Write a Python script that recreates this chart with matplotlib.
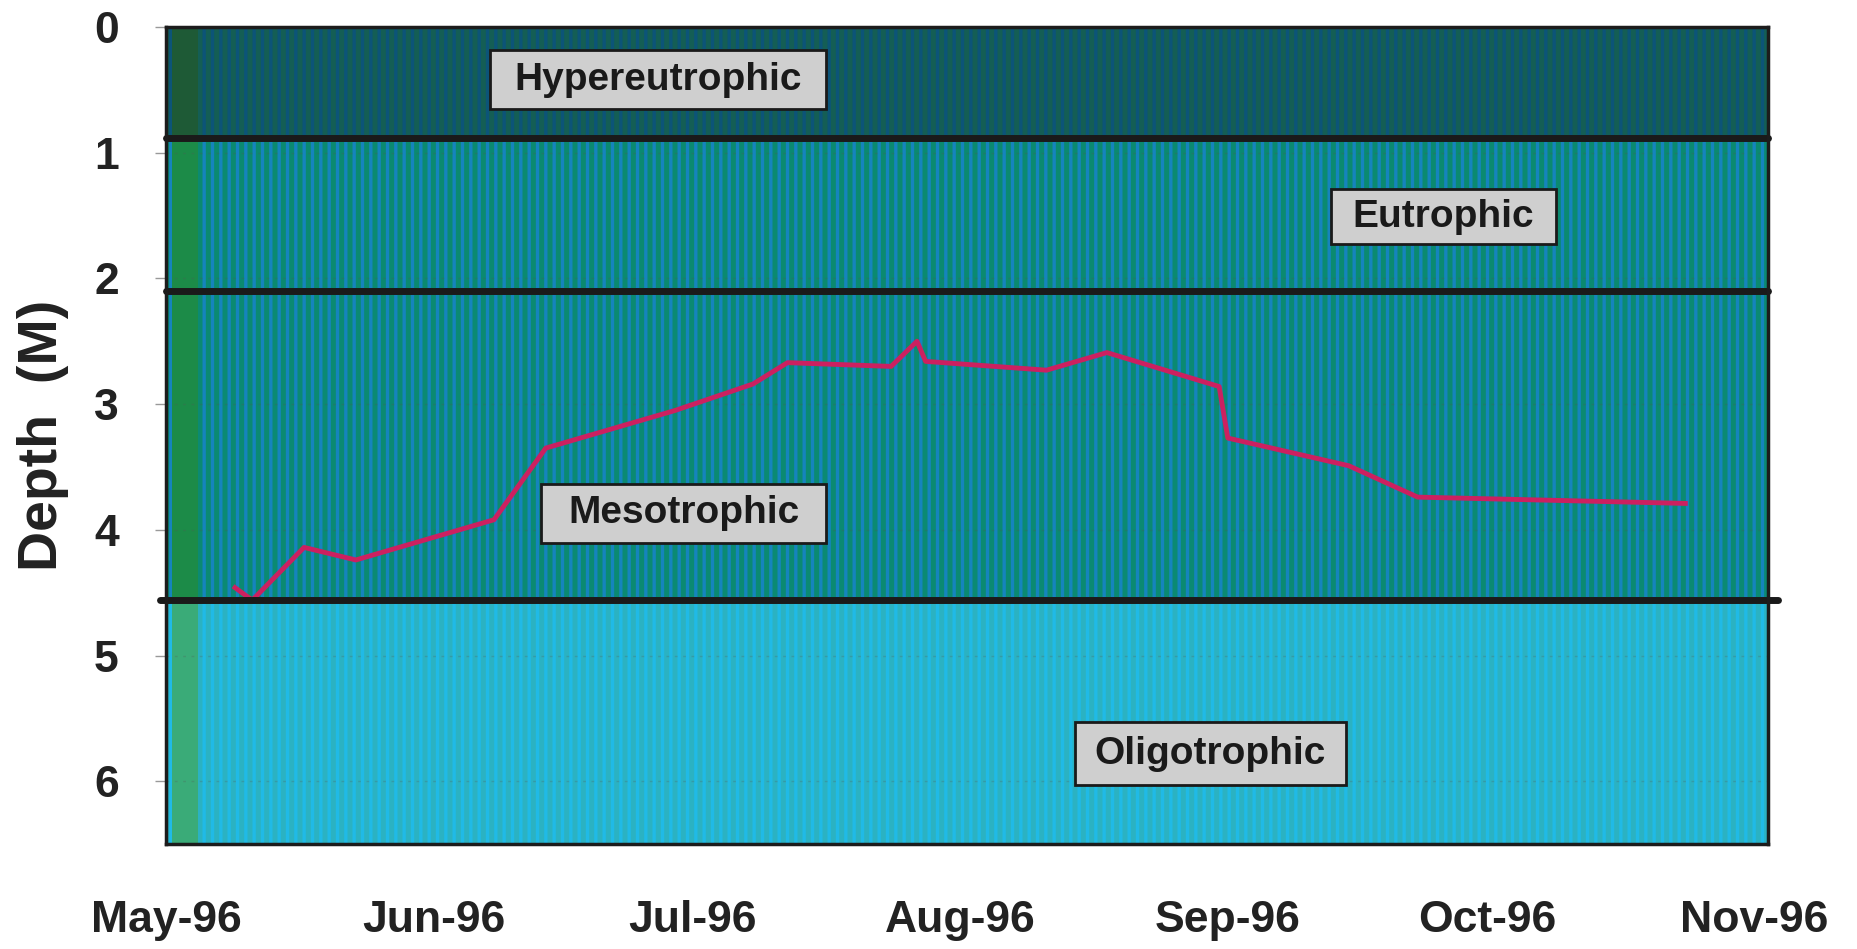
import datetime as dt
import matplotlib
matplotlib.use("Agg")
import matplotlib.pyplot as plt
import matplotlib.dates as mdates
from matplotlib.patches import Rectangle

# secchi depth readings (m)
dates = ["1996-05-09", "1996-05-11", "1996-05-17", "1996-05-23", "1996-06-08",
         "1996-06-14", "1996-06-29", "1996-07-08", "1996-07-12", "1996-07-24",
         "1996-07-27", "1996-07-28", "1996-08-11", "1996-08-18", "1996-08-31",
         "1996-09-01", "1996-09-15", "1996-09-23", "1996-10-24"]
depth = [4.46, 4.56, 4.14, 4.24, 3.92, 3.35, 3.05, 2.84, 2.67, 2.70,
         2.50, 2.66, 2.73, 2.59, 2.86, 3.27, 3.49, 3.74, 3.79]

# trophic zones (depth limits)
zone_names = ["Hypereutrophic", "Eutrophic", "Mesotrophic", "Oligotrophic"]
zone_top = [0.0, 0.88, 2.1, 4.56]
zone_bottom = [0.88, 2.1, 4.56, 6.5]

month_ticks = ["1996-05-01", "1996-06-01", "1996-07-01", "1996-08-01",
               "1996-09-01", "1996-10-01", "1996-11-01"]

to_dt = lambda s: dt.datetime.strptime(s, "%Y-%m-%d")
x = [to_dt(d) for d in dates]
ticks = [to_dt(d) for d in month_ticks]

plt.rcParams["hatch.linewidth"] = 2.4
fig = plt.figure(figsize=(18.58, 9.49), dpi=100)
ax = fig.add_axes([0.0893, 0.1106, 0.8623, 0.8609])

xmin = dt.datetime(1996, 5, 1, 16)
xmax = dt.datetime(1996, 11, 2, 14)
ax.set_xlim(xmin, xmax)
ax.set_ylim(6.5, 0)

# band colours: base, stripe, left strip
base = ["#145e55", "#0b8a70", "#0b8a72", "#2bb2c2"]
stripe = ["#0c5478", "#1584bd", "#1584bd", "#20bae6"]
strip = ["#1e5a36", "#1c8b48", "#1c8b48", "#3aab78"]
for i in range(len(zone_names)):
    ax.axhspan(zone_top[i], zone_bottom[i], facecolor=base[i], edgecolor=stripe[i],
               hatch="||", linewidth=0, zorder=0)
    ax.add_patch(Rectangle((mdates.date2num(xmin), zone_top[i]), 3.0,
                           zone_bottom[i] - zone_top[i], facecolor=strip[i],
                           linewidth=0, zorder=0.5))

# faint dotted grid
ax.set_yticks(range(0, 7))
ax.yaxis.grid(True, linestyle=(0, (2, 4)), color="#555555", alpha=0.25, lw=1)
ax.set_axisbelow(False)

# zone boundary lines
for b in zone_top[1:]:
    ax.plot([-0.004, 1.006] if b == zone_top[-1] else [0, 1], [b, b],
            transform=ax.get_yaxis_transform(), color="#1a1a1a", lw=5,
            solid_capstyle="round", clip_on=False, zorder=4)

ax.plot(x, depth, color="#cc2060", lw=3.5, zorder=3)

# zone labels in grey boxes
label_x = ["1996-06-27", "1996-09-26", "1996-06-30", "1996-08-30"]
label_y = [0.42, 1.51, 3.87, 5.78]
box_w = [39, 26, 33, 31.5]
box_h = [0.47, 0.44, 0.47, 0.5]
for name, lx, ly, w, h in zip(zone_names, label_x, label_y, box_w, box_h):
    cx = mdates.date2num(to_dt(lx))
    ax.add_patch(Rectangle((cx - w / 2, ly - h / 2), w, h, facecolor="#cfcfcf",
                           edgecolor="#1a1a1a", lw=2, zorder=5))
    ax.text(cx, ly, name, ha="center", va="center", fontsize=28, fontweight="bold",
            family=["Liberation Sans Narrow", "Liberation Sans", "DejaVu Sans"],
            color="#1a1a1a", zorder=6)

ax.set_xticks(ticks)
ax.xaxis.set_major_formatter(mdates.DateFormatter("%b-%y"))
ax.tick_params(axis="x", length=0, pad=40)
ax.tick_params(axis="y", length=8, width=1, color="#999999", pad=26)
for lab in ax.get_xticklabels() + ax.get_yticklabels():
    lab.set_fontfamily(["Liberation Sans", "DejaVu Sans"])
    lab.set_fontweight("bold")
    lab.set_color("#222222")
    lab.set_fontsize(32)

ax.set_ylabel("Depth  (M)", fontsize=40, fontweight="bold", color="#222222",
              family=["Liberation Sans", "DejaVu Sans"], labelpad=18)

for s in ax.spines.values():
    s.set_linewidth(2.5)
    s.set_color("#1c1c1c")
    s.set_zorder(7)

fig.savefig("out.png", dpi=100)
